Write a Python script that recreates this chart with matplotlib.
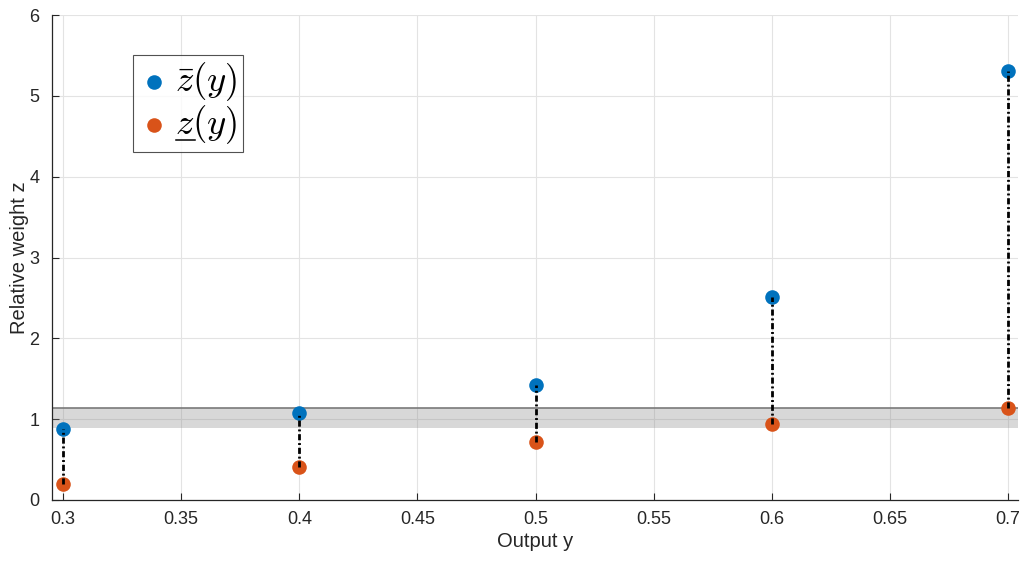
import matplotlib
matplotlib.use("Agg")
import matplotlib.pyplot as plt
from matplotlib.lines import Line2D

y_out = [0.3, 0.4, 0.5, 0.6, 0.7]
z_upper = [0.88, 1.08, 1.42, 2.51, 5.31]
z_lower = [0.20, 0.41, 0.72, 0.94, 1.14]
band_low, band_high = 0.89, 1.14
xticks = [0.3, 0.35, 0.4, 0.45, 0.5, 0.55, 0.6, 0.65, 0.7]
xticklabels = ["0.3", "0.35", "0.4", "0.45", "0.5", "0.55", "0.6", "0.65", "0.7"]
yticks = [0, 1, 2, 3, 4, 5, 6]

plt.rcParams['font.family'] = ['Liberation Sans', 'DejaVu Sans']
plt.rcParams['mathtext.fontset'] = 'cm'

fig = plt.figure(figsize=(10.25, 5.65), dpi=100)
ax = fig.add_axes([52/1025, 1-500/565, (1018-52)/1025, (500-15)/565])

ax.axhspan(band_low, band_high, color='#808080', alpha=0.3, zorder=1, lw=0)
ax.axhline(band_high, color='#7a7a7a', lw=1.2, zorder=2)

for x, hi, lo in zip(y_out, z_upper, z_lower):
    ax.plot([x, x], [lo, hi], color='black', ls=(0, (2.2, 1.0, 0.7, 1.0)), lw=2, zorder=4)

ax.scatter(y_out, z_upper, s=110, color='#0072BD', zorder=3, label=r'$\bar{z}(y)$', linewidths=0)
ax.scatter(y_out, z_lower, s=110, color='#D95319', zorder=3, label=r'$z(y)$', linewidths=0)

ax.set_xlim(0.2953, 0.7042)
ax.set_ylim(0, 6)
ax.set_xticks(xticks)
ax.set_xticklabels(xticklabels)
ax.set_yticks(yticks)
ax.grid(True, color='#e3e3e3', lw=0.8, zorder=0)
ax.set_axisbelow(True)
for s in ['top', 'right']:
    ax.spines[s].set_visible(False)
for s in ['left', 'bottom']:
    ax.spines[s].set_color('#262626')
    ax.spines[s].set_linewidth(0.9)
ax.tick_params(axis='both', labelsize=13, colors='#262626', direction='in', length=5, width=0.8)
ax.tick_params(axis='x', pad=8)
ax.tick_params(axis='y', pad=9)
ax.set_xlabel('Output y', fontsize=14.5, color='#262626', labelpad=3)
ax.set_ylabel('Relative weight z', fontsize=14.5, color='#262626', labelpad=0)

leg = ax.legend(loc='upper left', bbox_to_anchor=((133-52)/966, 1-(55-15)/485),
                borderaxespad=0, fontsize=26.5, frameon=True, fancybox=False, edgecolor='#262626',
                handletextpad=0.15, borderpad=0.15, labelspacing=0.0, handlelength=0.85,
                markerscale=1.0)
leg.get_frame().set_linewidth(0.8)

# underline the z of the second legend entry
fig.canvas.draw()
r = fig.canvas.get_renderer()
t = leg.get_texts()[1]
bb = t.get_window_extent(r)
tmp = fig.text(0, 0, r'$z$', fontsize=26.5)
zw = tmp.get_window_extent(r).width
tmp.remove()
W, H = fig.bbox.width, fig.bbox.height
yline = bb.y0 + 0.14 * bb.height
fig.add_artist(Line2D([(bb.x0 + 1) / W, (bb.x0 + zw) / W], [yline / H, yline / H],
                      color='black', lw=1.1, transform=fig.transFigure, zorder=10))

fig.savefig('out.png', dpi=100)
